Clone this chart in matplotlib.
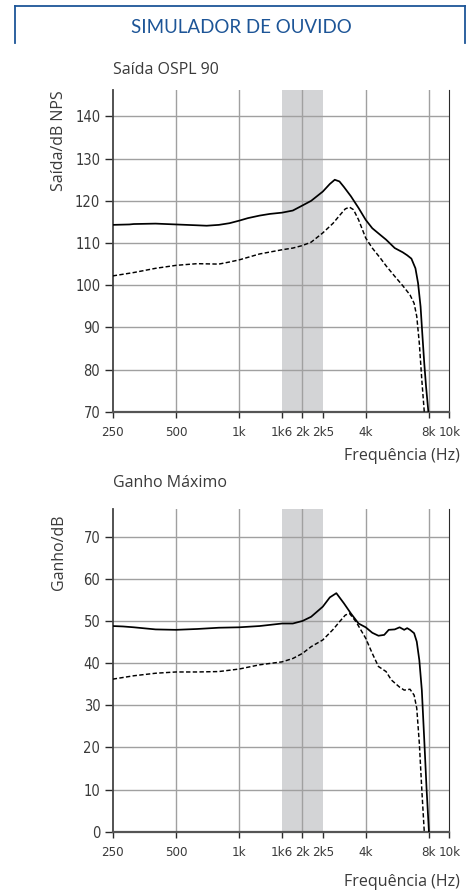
import numpy as np
import matplotlib
matplotlib.use("Agg")
import matplotlib.pyplot as plt
from matplotlib.lines import Line2D
from matplotlib import font_manager

# -------------------------------------------------
# Data
# -------------------------------------------------

tick_freqs = [250, 500, 1000, 1600, 2000, 2500, 4000, 8000, 10000]
tick_labels = ["250", "500", "1k", "1k6", "2k", "2k5", "4k", "8k", "10k"]
grid_freqs = [500, 1000, 2000, 4000, 8000]

ospl_freq = [250, 300, 315, 400, 500, 630, 700, 800, 900, 1000, 1100, 1250,
             1400, 1600, 1800, 2000, 2200, 2500, 2700, 2850, 3000, 3150,
             3400, 3700, 4000, 4300, 4700, 5000, 5500, 6000, 6300, 6600,
             6900, 7100, 7300, 7450, 7600, 7750, 7950]
ospl_max = [114.3, 114.4, 114.5, 114.6, 114.4, 114.2, 114.1, 114.3, 114.7,
            115.3, 115.9, 116.5, 116.9, 117.2, 117.7, 118.9, 120.0, 122.2,
            124.0, 125.0, 124.6, 123.3, 121.1, 118.3, 115.5, 113.5, 111.9,
            110.8, 108.8, 107.8, 107.1, 106.3, 104.0, 100.5, 94.9, 88.0,
            81.5, 76.0, 70.0]

ospl_ref_freq = [250, 315, 400, 500, 630, 800, 900, 1000, 1250, 1600, 1800,
                 2000, 2200, 2500, 2800, 3000, 3200, 3350, 3500, 3700, 4000,
                 4300, 4700, 5000, 5500, 6000, 6500, 6800, 7000, 7200, 7400,
                 7600]
ospl_ref = [102.2, 103.0, 104.0, 104.7, 105.1, 105.0, 105.5, 106.0, 107.4,
            108.4, 108.8, 109.4, 110.2, 112.4, 114.7, 116.5, 118.1, 118.5,
            117.9, 115.5, 111.2, 108.8, 106.4, 104.6, 102.1, 99.9, 97.7,
            95.7, 92.6, 86.2, 77.5, 70.0]

gain_freq = [250, 280, 315, 400, 500, 630, 800, 1000, 1250, 1600, 1800,
             2000, 2200, 2500, 2700, 2900, 3150, 3400, 3700, 4000, 4300,
             4600, 4900, 5150, 5500, 5800, 6100, 6300, 6500, 6800, 7000,
             7200, 7400, 7600, 7800, 8000]
gain_max = [48.8, 48.7, 48.5, 48.0, 47.9, 48.1, 48.4, 48.5, 48.8, 49.4, 49.4,
            50.0, 51.0, 53.4, 55.6, 56.6, 54.2, 51.8, 49.4, 48.5, 47.2, 46.5,
            46.7, 47.9, 48.0, 48.5, 47.9, 48.3, 47.9, 47.1, 45.1, 40.7, 33.6,
            21.8, 9.9, 0.0]

gain_ref_freq = [250, 315, 400, 500, 630, 800, 1000, 1250, 1600, 1800, 2000,
                 2200, 2500, 2800, 3000, 3200, 3350, 3600, 4000, 4300, 4600,
                 5000, 5300, 5800, 6100, 6500, 6800, 7000, 7200, 7400, 7600]
gain_ref = [36.2, 37.0, 37.6, 37.9, 37.9, 38.0, 38.6, 39.6, 40.3, 41.1, 42.3,
            43.9, 45.5, 48.0, 49.8, 51.4, 51.8, 49.8, 45.9, 42.3, 39.2, 38.0,
            36.0, 34.3, 33.6, 33.8, 32.4, 29.3, 21.0, 9.9, 0.0]

# -------------------------------------------------
# Fonts
# -------------------------------------------------

# tick labels are set in a condensed face in the original
cond_prop = font_manager.FontProperties(family="DejaVu Sans", stretch="condensed")
cond_file = font_manager.findfont(cond_prop)
if "Condensed" in cond_file:
    xtick_font = dict(family="DejaVu Sans", stretch="condensed", size=9.5)
    ytick_font = dict(family="DejaVu Sans", stretch="condensed", size=10.5)
else:
    xtick_font = dict(family="Roboto", size=9.5)
    ytick_font = dict(family="Roboto", size=10.5)

text_font = "Open Sans"

BLUE = "#1d5597"
DARK = "#2a2a2a"
GRID = "#a0a0a0"
SHADE = "#d3d4d6"
TXT = "#3a3a3a"

# -------------------------------------------------
# Figure
# -------------------------------------------------

fig = plt.figure(figsize=(4.68, 8.94), dpi=100)
W, H = 468, 894

# blue header frame
fig.add_artist(Line2D([15 / W, 465 / W], [1 - 6 / H, 1 - 6 / H], color=BLUE, lw=1.3))
fig.add_artist(Line2D([15 / W, 15 / W], [1 - 6 / H, 1 - 43 / H], color=BLUE, lw=1.3))
fig.add_artist(Line2D([465 / W, 465 / W], [1 - 6 / H, 1 - 43 / H], color=BLUE, lw=1.3))
fig.text(241 / W, 1 - 27.5 / H, "SIMULADOR DE OUVIDO", color=BLUE,
         fontsize=13.5, family="Lato", ha="center", va="center")


def draw_panel(rect, f1, y1, f2, y2, ylo, yhi, yticks, title, ylabel,
               title_y, ylabel_y, xlabel_y):
    ax = fig.add_axes(rect)
    ax.set_xscale("log")
    ax.set_xlim(250, 10000)
    ax.set_ylim(ylo, yhi)

    ax.axvspan(1600, 2500, color=SHADE, lw=0, zorder=0)
    for f in grid_freqs:
        ax.axvline(f, color=GRID, lw=1.0, zorder=1)
    for v in yticks[1:]:
        ax.axhline(v, color=GRID, lw=1.0, zorder=1)

    ax.plot(f1, y1, color="black", lw=1.25, zorder=3)
    ax.plot(f2, y2, color="black", lw=1.05, ls=(0, (3, 1.6)), zorder=3)

    ax.spines["top"].set_visible(False)
    ax.spines["left"].set_color("#444444")
    ax.spines["left"].set_linewidth(1.3)
    ax.spines["right"].set_color(DARK)
    ax.spines["bottom"].set_color("#555555")
    ax.spines["bottom"].set_linewidth(1.6)

    ax.set_xticks(tick_freqs)
    ax.set_xticklabels(tick_labels)
    ax.xaxis.set_minor_locator(matplotlib.ticker.NullLocator())
    ax.set_yticks(yticks)
    ax.tick_params(axis="x", length=4.5, width=1, color=DARK, pad=6,
                   labelcolor=TXT)
    ax.tick_params(axis="y", length=5.5, width=1, color=DARK, pad=3.5,
                   labelcolor=TXT)
    for lab in ax.get_xticklabels():
        lab.set(**xtick_font)
    for lab in ax.get_yticklabels():
        lab.set(**ytick_font)

    fig.text(113 / W, 1 - title_y / H, title, fontsize=11.5, family=text_font,
             color=TXT, ha="left", va="center")
    fig.text(59 / W, 1 - ylabel_y / H, ylabel, fontsize=11.5, family=text_font,
             color=TXT, rotation=90, ha="center", va="center")
    fig.text(460 / W, 1 - xlabel_y / H, "Frequência (Hz)", fontsize=11.5,
             family=text_font, color=TXT, ha="right", va="center")
    return ax


# -------------------------------------------------
# Saída OSPL 90
# -------------------------------------------------

draw_panel([112.7 / W, 1 - 411.7 / H, 336.6 / W, 322.2 / H],
           ospl_freq, ospl_max, ospl_ref_freq, ospl_ref,
           70, 146.4, list(range(70, 141, 10)),
           "Saída OSPL 90", "Saída/dB NPS", 70, 141, 456)

# -------------------------------------------------
# Ganho Máximo
# -------------------------------------------------

draw_panel([112.7 / W, 1 - 831.7 / H, 336.6 / W, 322.4 / H],
           gain_freq, gain_max, gain_ref_freq, gain_ref,
           0, 76.5, list(range(0, 71, 10)),
           "Ganho Máximo", "Ganho/dB", 483, 552, 882)

fig.savefig("out.png", dpi=100)
